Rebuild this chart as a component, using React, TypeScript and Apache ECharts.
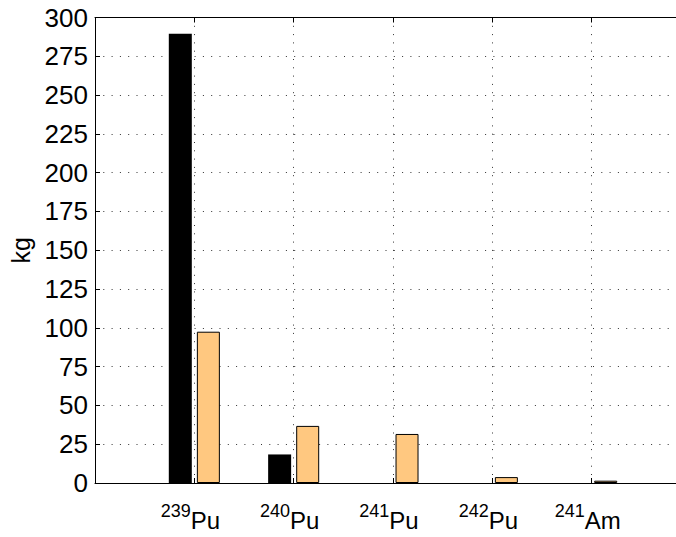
import React, { useEffect, useRef } from 'react';
import * as echarts from 'echarts';

// Isotopes on the x axis: mass number (drawn as a superscript) and element symbol
const massNumbers = ['239', '240', '241', '242', '241'];
const elements = ['Pu', 'Pu', 'Pu', 'Pu', 'Am'];

// Mass in kg for each isotope, two bar groups
const massBlack = [289.5, 18.4, 0, 0, 0];
const massOrange = [97.5, 36.8, 31.6, 3.8, 1.5];

// Value axis ticks
const yMin = 0;
const yMax = 300;
const yStep = 25;

const FONT = 'Liberation Sans, Arial, Helvetica, sans-serif';

export default function App() {
  const ref = useRef<HTMLDivElement>(null);

  useEffect(() => {
    if (!ref.current) return;
    const chart = echarts.init(ref.current, undefined, { renderer: 'svg' });

    // One empty slot on each side so the isotopes sit on whole-number positions 1..5
    const categories = ['', ...massNumbers.map((m, i) => `${m}|${elements[i]}`), ''];
    const pad = (arr: number[]) => ['-', ...arr, '-'];

    const gridLine = {
      show: true,
      lineStyle: { color: '#333', width: 1, type: [1, 7.3] as number[] },
    };

    chart.setOption({
      animation: false,
      backgroundColor: '#fff',
      textStyle: { fontFamily: FONT },
      grid: {
        left: 95,
        top: 17.5,
        width: 596,
        height: 465.5,
        containLabel: false,
        outerBoundsMode: 'none',
      },
      xAxis: [
        {
          type: 'category',
          data: categories,
          boundaryGap: false,
          axisLine: { show: true, lineStyle: { color: '#000', width: 1 } },
          axisTick: { show: true, inside: true, length: 5, lineStyle: { color: '#000' } },
          splitLine: gridLine,
          axisLabel: {
            show: true,
            margin: 19,
            interval: 0,
            padding: [0, 8, 0, 0],
            formatter: (v: string) => {
              if (!v) return '';
              const [m, e] = v.split('|');
              return `{sup|${m}}{base|${e}}`;
            },
            rich: {
              sup: { fontSize: 18, lineHeight: 18, verticalAlign: 'top', color: '#000', fontFamily: FONT },
              base: { fontSize: 24, lineHeight: 30, verticalAlign: 'bottom', color: '#000', fontFamily: FONT },
            },
          },
        },
        {
          type: 'category',
          data: categories,
          boundaryGap: false,
          position: 'top',
          axisLine: { show: true, lineStyle: { color: '#000', width: 1 } },
          axisTick: { show: true, inside: true, length: 5, lineStyle: { color: '#000' } },
          axisLabel: { show: false },
          splitLine: { show: false },
        },
      ],
      yAxis: {
        type: 'value',
        min: yMin,
        max: yMax,
        interval: yStep,
        name: 'kg',
        nameLocation: 'middle',
        nameGap: 60,
        nameTextStyle: { fontSize: 25, color: '#000', fontFamily: FONT },
        axisLine: { show: true, lineStyle: { color: '#000', width: 1 } },
        axisTick: { show: true, inside: true, length: 5, lineStyle: { color: '#000' } },
        splitLine: gridLine,
        axisLabel: { fontSize: 26, color: '#000', margin: 7, fontFamily: FONT },
      },
      series: [
        {
          type: 'bar',
          data: pad(massBlack),
          barWidth: 23,
          barGap: '22%',
          itemStyle: { color: '#000', borderWidth: 0 },
        },
        {
          type: 'bar',
          data: pad(massOrange),
          barWidth: 23,
          barGap: '22%',
          itemStyle: { color: '#FFC880', borderColor: '#000', borderWidth: 1 },
        },
      ],
    });

    return () => chart.dispose();
  }, []);

  return (
    <div
      ref={ref}
      style={{ position: 'fixed', left: 0, top: 0, width: 676, height: 537, overflow: 'hidden' }}
    />
  );
}
